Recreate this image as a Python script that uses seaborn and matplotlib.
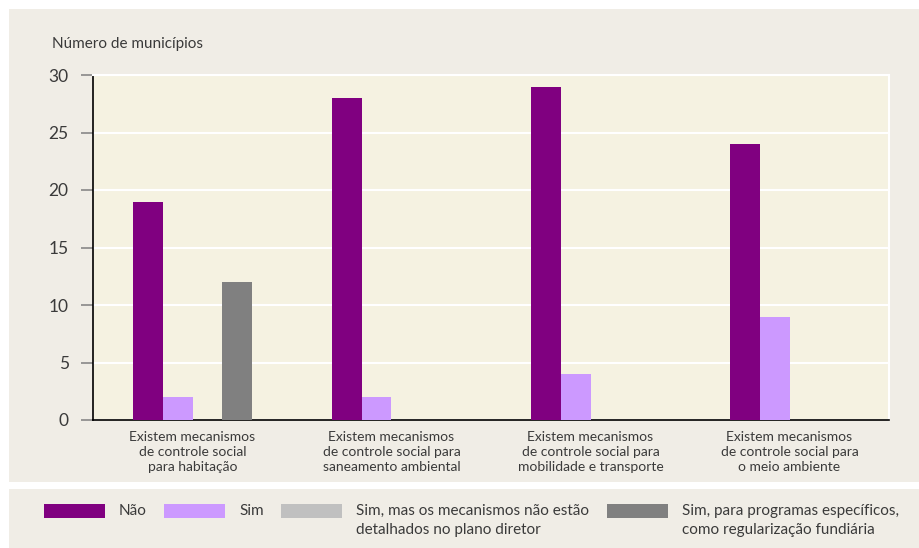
import numpy as np
import pandas as pd
import matplotlib
matplotlib.use('Agg')
import matplotlib.pyplot as plt
import seaborn as sns
from matplotlib.patches import Rectangle, Patch

# data
categorias = ['Existem mecanismos\nde controle social\npara habitação',
              'Existem mecanismos\nde controle social para\nsaneamento ambiental',
              'Existem mecanismos\nde controle social para\nmobilidade e transporte',
              'Existem mecanismos\nde controle social para\no meio ambiente']
series = ['Não', 'Sim',
          'Sim, mas os mecanismos não estão\ndetalhados no plano diretor',
          'Sim, para programas específicos,\ncomo regularização fundiária']
nao = [19, 28, 29, 24]
sim = [2, 2, 4, 9]
sim_mas = [0, 0, 0, 0]
sim_programas = [12, 0, 0, 0]
cores = ['#800080', '#cc99ff', '#c0c0c0', '#808080']

valores = [nao, sim, sim_mas, sim_programas]
df = pd.DataFrame({
    'cat': categorias * 4,
    'serie': [s for s in series for _ in categorias],
    'n': [v for vals in valores for v in vals],
})

sns.set_theme(style='white')
plt.rcParams['font.family'] = ['Lato', 'DejaVu Sans']
txt = '#3a3a3a'

W, H = 919, 548
fig = plt.figure(figsize=(W/100, H/100), dpi=100, facecolor='white')

# background panels
fig.patches.append(Rectangle((9/W, (H-482)/H), 1-9/W, (482-9)/H, transform=fig.transFigure,
                             facecolor='#f0ede6', edgecolor='none', zorder=-10))
fig.patches.append(Rectangle((9/W, 0), 1-9/W, (H-489)/H, transform=fig.transFigure,
                             facecolor='#f0ede6', edgecolor='none', zorder=-10))

ax = fig.add_axes([93/W, (H-420)/H, (889-93)/W, (420-75)/H])
ax.set_facecolor('#f5f2e1')
sns.barplot(data=df, x='cat', y='n', hue='serie', hue_order=series, order=categorias,
            palette=cores, width=0.6, saturation=1, legend=False, ax=ax, zorder=3,
            linewidth=0, edgecolor='none')

ax.set_ylim(0, 30)
ax.set_yticks([0, 5, 10, 15, 20, 25, 30])
ax.yaxis.grid(True, color='white', lw=1.5, zorder=0)
ax.set_axisbelow(True)
ax.set_xlabel('')
ax.set_ylabel('')
for s in ['top', 'right']:
    ax.spines[s].set_color('white')
    ax.spines[s].set_linewidth(1.5)
for s in ['left', 'bottom']:
    ax.spines[s].set_color('black')
    ax.spines[s].set_linewidth(1.2)
ax.tick_params(axis='y', length=8.5, width=1.2, color='#888888', pad=9, labelsize=12.5, labelcolor=txt, left=True)
ax.tick_params(axis='x', length=0, pad=8, labelsize=10, labelcolor=txt)
for lab in ax.get_xticklabels():
    lab.set_linespacing(1.3)

fig.text(52/W, (H-44)/H, 'Número de municípios', fontsize=11, color=txt, ha='left', va='center')

handles = [Patch(facecolor=c, edgecolor='none') for c in cores]
leg = fig.legend(handles, series, loc='upper left', bbox_to_anchor=(44/W, (H-504)/H),
                 ncol=4, frameon=False, fontsize=11, handlelength=4.0, handleheight=1.05,
                 handletextpad=0.9, columnspacing=1.15, borderpad=0, borderaxespad=0)
for t in leg.get_texts():
    t.set_color(txt)
    t.set_linespacing(1.45)
# handle next to the first line of two-line labels, columns aligned at top
leg._legend_handle_box.align = 'top'
for col in leg._legend_handle_box.get_children():
    for item in col.get_children():
        item.align = 'top'

fig.savefig('out.png', dpi=100, facecolor='white')
